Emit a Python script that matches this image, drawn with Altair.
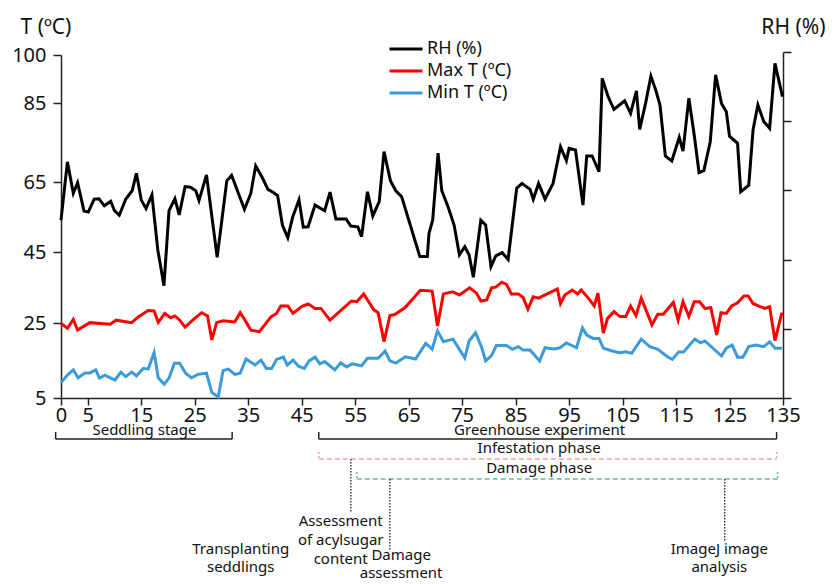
import altair as alt
import pandas as pd

FONT = "Noto Sans"

# ---------------- data ----------------
rh_day = [0, 1.2, 2.3, 3.1, 4.3, 5.1, 6.2, 7.1, 8.1, 9.3, 10, 10.9, 12.1, 13.3, 14.1, 15, 15.9, 17,
          18.1, 19.25, 20.2, 21.3, 22.1, 23.2, 24.2, 25.2, 25.8, 27.2, 29.2, 31, 31.9, 34.3, 35.5,
          36.4, 37.6, 38.7, 39.7, 40.5, 41.4, 42.4, 43.3, 44.5, 45.3, 46.2, 47.5, 49.3, 50.3, 51.4,
          53.3, 54.2, 55.5, 56.2, 57.3, 58.3, 59.5, 60.4, 61.6, 62.6, 63.7, 67.1, 68.5, 68.8, 69.5,
          70.5, 71.2, 72.4, 73.5, 74.5, 75.5, 76.3, 77.1, 78.5, 79.4, 80.4, 81.3, 82.5, 83.6, 85.2,
          86.2, 87.7, 88.3, 89.3, 90.5, 92, 93.4, 94.5, 95, 96.2, 97.6, 98.3, 99.3, 100.6, 101.2,
          102.3, 103.4, 104.4, 105.4, 106.5, 107.6, 108.2, 109.3, 110.3, 111.2, 112, 113, 114.2,
          115.6, 116.3, 117.4, 118.4, 119.3, 120.2, 121.4, 122.4, 123.5, 124.4, 125, 126.5, 127.1,
          128.6, 129.4, 130.3, 131.4, 132.5, 133.5, 134.9]
rh_val = [54.1, 70.1, 61.8, 64.8, 56.7, 56.4, 60.1, 60.2, 58.2, 59.5, 56.8, 55.5, 60.1, 62.5, 67.2,
          59.9, 57.4, 61.3, 45.6, 35.5, 56.8, 60.2, 55.6, 63.7, 63.5, 62.5, 59.7, 66.8, 43.5, 65.3,
          66.7, 57.2, 61.8, 69.1, 66.2, 62.9, 62.0, 61.1, 52.7, 49.1, 54.9, 59.9, 52.1, 52.2, 58.4,
          56.8, 62.1, 54.4, 54.4, 52.4, 52.2, 49.4, 62.2, 55.3, 59.4, 72.7, 65.3, 62.5, 60.8, 43.7,
          43.7, 50.3, 54.1, 72.3, 62.5, 57.8, 52.7, 44.2, 46.5, 44.2, 37.9, 54.1, 52.7, 40.9, 43.9,
          44.8, 42.9, 63.2, 64.6, 62.9, 60.1, 64.6, 60.1, 64.6, 73.9, 70.4, 73.5, 73.1, 58.4, 71.6,
          71.6, 67.6, 92.7, 87.0, 83.4, 84.5, 85.7, 82.4, 88.8, 78.3, 84.9, 93.4, 89.1, 84.5, 71.6,
          70.3, 76.3, 72.8, 86.5, 76.9, 67.4, 67.9, 75.2, 93.8, 84.9, 82.8, 76.6, 74.8, 62.2, 64.1,
          78.2, 84.5, 80.3, 78.6, 97.4, 87.0]

tmax_day = [0, 1.2, 2.3, 3.1, 5.4, 9.2, 10.3, 13.2, 14.5, 16.3, 17.4, 18.2, 19.4, 20.5, 21.3, 22.2,
            23.2, 25, 26.3, 27.4, 28.2, 29.1, 30.3, 32.5, 33.5, 34.4, 35.5, 37.1, 39.3, 40.3, 41.1,
            42.4, 43.4, 45, 46.2, 47.5, 48.6, 50.3, 54.3, 55.3, 56.6, 58.5, 59.3, 60.4, 61.5, 62.4,
            64.3, 67.2, 69.4, 70.4, 71.5, 73.2, 74.5, 76.4, 77.7, 78.5, 79.6, 80.5, 81.3, 82.4,
            83.3, 84.2, 85.5, 86.4, 87.3, 88.3, 89.3, 92.8, 93.4, 94.2, 95.6, 96.6, 97.3, 98.6,
            99.7, 100.4, 101.4, 102.2, 103.4, 104.5, 105.6, 106.5, 107.5, 108.5, 110.5, 111.6,
            112.6, 114.5, 115.4, 116.3, 117.4, 118.4, 119.4, 120.4, 121.5, 122.6, 123.4, 124.4,
            125.4, 126.5, 127.7, 128.5, 129.4, 130.7, 131.6, 132.5, 133.5, 134.8]
tmax_val = [24.9, 23.6, 26.0, 23.1, 25.1, 24.7, 25.8, 25.1, 26.8, 28.5, 28.4, 25.2, 27.7, 26.5, 27.0,
            25.8, 23.9, 26.3, 27.9, 27.0, 20.5, 25.1, 25.6, 25.3, 27.9, 25.8, 23.1, 22.7, 26.8, 27.7,
            29.8, 29.8, 27.7, 29.6, 30.4, 29.1, 29.1, 25.8, 31.2, 31.0, 33.2, 28.7, 27.9, 20.0, 27.1,
            27.4, 29.3, 34.2, 34.0, 24.2, 33.2, 33.8, 32.9, 34.9, 33.4, 31.2, 31.5, 34.9, 35.1, 36.5,
            35.9, 33.2, 33.2, 32.2, 28.9, 32.4, 32.0, 34.6, 30.5, 32.9, 34.3, 33.2, 34.3, 32.0, 29.8,
            33.4, 22.3, 26.3, 28.2, 26.8, 26.8, 29.8, 27.1, 32.0, 24.5, 27.5, 27.5, 30.8, 25.8, 31.0,
            26.8, 31.0, 31.0, 29.1, 29.3, 21.8, 27.9, 27.7, 29.8, 30.7, 32.6, 32.6, 30.5, 29.6, 29.1,
            29.6, 20.3, 27.9]

tmin_day = [0, 1.2, 2.3, 3.2, 4.5, 5.4, 6.5, 7.2, 8.2, 10.1, 11.2, 12.1, 13.2, 14.1, 15.4, 16.3, 17.4,
            18.2, 19.3, 20.2, 21.2, 22.2, 23.3, 24.4, 25.6, 27.2, 28.2, 29.4, 30.3, 31.3, 32.5, 33.5,
            34.6, 36.3, 37.4, 38.4, 39.4, 40.3, 41.6, 42.3, 43.4, 44.4, 45.5, 46.4, 47.5, 48.4, 49.3,
            51.2, 52.3, 53.4, 54.4, 56.2, 57.3, 59.3, 60.6, 61.5, 62.6, 64.4, 66.3, 68.2, 69.4, 70.4,
            71.5, 73.3, 75.5, 76.3, 77.5, 78.6, 79.4, 80.5, 81.4, 83.3, 84.4, 85.5, 86.4, 87.7, 89.5,
            90.5, 92.2, 93.3, 94.5, 96.4, 97.5, 98.3, 99.5, 100.6, 101.4, 102.9, 104.5, 105.6, 106.7,
            108.5, 110.1, 111.6, 113.4, 114.3, 115.5, 116.4, 118.5, 119.6, 120.4, 123.5, 124.4, 125.5,
            126.5, 127.5, 128.6, 129.9, 131.4, 132.5, 133.5, 134.8]
tmin_val = [9.1, 11.1, 12.5, 10.4, 11.7, 11.7, 12.5, 10.3, 11.1, 9.8, 11.9, 10.7, 11.9, 10.9, 12.9,
            12.7, 17.1, 10.3, 8.7, 10.3, 14.3, 14.3, 11.6, 10.4, 11.3, 11.6, 6.5, 5.3, 12.3, 12.7,
            11.3, 11.6, 15.4, 13.8, 15.1, 12.9, 12.9, 15.3, 15.9, 13.8, 15.1, 13.5, 12.9, 14.9, 15.9,
            14.1, 14.7, 12.5, 14.4, 13.3, 14.1, 13.6, 15.6, 15.6, 17.5, 14.9, 14.3, 16.0, 15.4, 19.6,
            18.0, 22.9, 20.0, 20.7, 15.7, 20.2, 22.4, 18.7, 14.9, 16.3, 19.0, 19.0, 18.0, 18.7, 17.8,
            17.8, 14.9, 18.4, 18.1, 18.4, 19.7, 18.4, 23.7, 21.8, 20.9, 20.9, 18.3, 17.6, 17.1, 17.3,
            16.9, 20.7, 18.7, 18.0, 16.0, 15.3, 17.3, 17.3, 20.7, 19.7, 20.2, 16.2, 18.3, 19.1, 15.9,
            15.9, 18.7, 19.1, 18.7, 20.0, 18.3, 18.3]

series_names = ["RH (%)", "Max T (ºC)", "Min T (ºC)"]
series_colors = ["#000000", "#ff0000", "#3b9bd8"]

x_ticks = [0, 5, 15, 25, 35, 45, 55, 65, 75, 85, 95, 105, 115, 125, 135]
y_ticks = [5, 25, 45, 65, 85, 100]
rh_axis_ticks = [0, 20, 40, 60, 80, 100]

# timeline annotations (days)
stage_start = [-1, 48.2]
stage_end = [32, 133.8]
stage_tick_days = [-1, 32, 48.2, 93.8, 133.8]
stage_labels = ["Seddling stage", "Greenhouse experiment"]
stage_label_days = [15.6, 89.5]
infest_start, infest_end = 48.2, 133.8
damage_start, damage_end = 55.3, 134.0
phase_label_day = 89.4
acyl_day, acyl_label_day = 54.2, 52.3
dmg_day, dmg_label_day = 61.5, 63.6
imagej_day, imagej_label_day = 124.1, 123.1
transplant_label_day = 33.6

# ---------------- chart ----------------
W, H = 722, 346
df = pd.concat([
    pd.DataFrame({"day": rh_day, "value": rh_val, "series": series_names[0]}),
    pd.DataFrame({"day": tmax_day, "value": tmax_val, "series": series_names[1]}),
    pd.DataFrame({"day": tmin_day, "value": tmin_val, "series": series_names[2]}),
], ignore_index=True)

x_scale = alt.Scale(domain=[0, 135], nice=False, zero=False)
x_axis = alt.Axis(values=x_ticks, title=None, tickSize=7, labelPadding=0,
                  labelFlush=False, labelOverlap=False)
y_scale = alt.Scale(domain=y_ticks, range=[346, 271, 200, 130, 51, 3], nice=False, zero=False)


def xq(field):
    return alt.X(f"{field}:Q", scale=x_scale, axis=x_axis)


lines = alt.Chart(df).mark_line(strokeWidth=3).encode(
    x=xq("day"),
    y=alt.Y("value:Q", scale=y_scale,
            axis=alt.Axis(values=y_ticks, title="T (ºC)", titleAngle=0, titleAlign="left",
                          titleBaseline="middle", titleX=-41, titleY=-25, tickSize=8,
                          labelPadding=7, labelOverlap=False)),
    color=alt.Color("series:N", sort=series_names,
                    scale=alt.Scale(domain=series_names, range=series_colors),
                    legend=alt.Legend(title=None, orient="none", legendX=336, legendY=-12,
                                      symbolType="M-3,0H3", symbolSize=121, symbolStrokeWidth=3,
                                      labelFont=FONT, labelFontSize=18, labelColor="#111",
                                      labelOffset=12, rowPadding=4, padding=0)),
)

rh_axis = alt.Chart(pd.DataFrame({"rh": rh_axis_ticks})).mark_point(opacity=0).encode(
    y=alt.Y("rh:Q", scale=alt.Scale(domain=[0, 100], nice=False),
            axis=alt.Axis(orient="right", values=rh_axis_ticks, labels=False, tickSize=8,
                          title="RH (%)", titleAngle=0, titleAlign="right",
                          titleBaseline="middle", titleX=42, titleY=-25)),
)

stage_df = pd.DataFrame({"start": stage_start, "end": stage_end})
stage_rules = alt.Chart(stage_df).mark_rule(color="#222", strokeWidth=1.5).encode(
    x=xq("start"), x2="end:Q", y=alt.value(387))
stage_ticks = alt.Chart(pd.DataFrame({"day": stage_tick_days})).mark_rule(
    color="#222", strokeWidth=1.5).encode(x=xq("day"), y=alt.value(380), y2=alt.value(387))

PINK, GREEN = "#f4a3a3", "#62bfa0"
infest_line = alt.Chart(pd.DataFrame({"start": [infest_start], "end": [infest_end]})).mark_rule(
    color=PINK, strokeWidth=1.5, strokeDash=[5, 3]).encode(x=xq("start"), x2="end:Q", y=alt.value(407))
infest_ticks = alt.Chart(pd.DataFrame({"day": [infest_start, infest_end]})).mark_rule(
    color=PINK, strokeWidth=1.5, strokeDash=[2, 2]).encode(x=xq("day"), y=alt.value(400), y2=alt.value(407))
damage_line = alt.Chart(pd.DataFrame({"start": [damage_start], "end": [damage_end]})).mark_rule(
    color=GREEN, strokeWidth=1.5, strokeDash=[5, 3]).encode(x=xq("start"), x2="end:Q", y=alt.value(427))
damage_ticks = alt.Chart(pd.DataFrame({"day": [damage_start, damage_end]})).mark_rule(
    color=GREEN, strokeWidth=1.5, strokeDash=[2, 2]).encode(x=xq("day"), y=alt.value(420), y2=alt.value(427))


def dotted(day, y1, y2):
    return alt.Chart(pd.DataFrame({"day": [day]})).mark_rule(
        color="#222", strokeWidth=1.3, strokeDash=[1.5, 1.5]).encode(
        x=xq("day"), y=alt.value(y1), y2=alt.value(y2))


def label(days, texts, y, lh=18):
    return alt.Chart(pd.DataFrame({"day": days, "label": texts})).mark_text(
        font=FONT, fontSize=15, color="#111", align="center", baseline="alphabetic",
        lineBreak="\n", lineHeight=lh).encode(x=xq("day"), y=alt.value(y), text="label:N")


layers = [
    lines, rh_axis,
    stage_rules, stage_ticks, infest_line, infest_ticks, damage_line, damage_ticks,
    dotted(acyl_day, 407, 460), dotted(dmg_day, 427, 498), dotted(imagej_day, 427, 490),
    label(stage_label_days, stage_labels, 383),
    label([phase_label_day], ["Infestation phase"], 401),
    label([phase_label_day], ["Damage phase"], 421),
    label([acyl_label_day], ["Assessment\nof acylsugar\ncontent"], 474, 19),
    label([transplant_label_day, imagej_label_day],
          ["Transplanting\nseddlings", "ImageJ image\nanalysis"], 502, 18),
    label([dmg_label_day], ["Damage\nassessment"], 508, 18),
]

chart = alt.layer(*layers).resolve_scale(y="independent").properties(
    width=W, height=H,
    padding={"left": 53, "top": 44, "right": 43, "bottom": 184},
    autosize=alt.AutoSizeParams(type="none"),
    background="white",
).configure_view(stroke=None).configure_axis(
    grid=False, domainColor="#222", domainWidth=1.5, tickColor="#222", tickWidth=1.5,
    labelFont=FONT, labelFontSize=20, labelColor="#111",
    titleFont=FONT, titleFontSize=21, titleFontWeight="normal", titleColor="#111",
)

chart.save("out.html", embed_options={"renderer": "svg", "actions": False})
